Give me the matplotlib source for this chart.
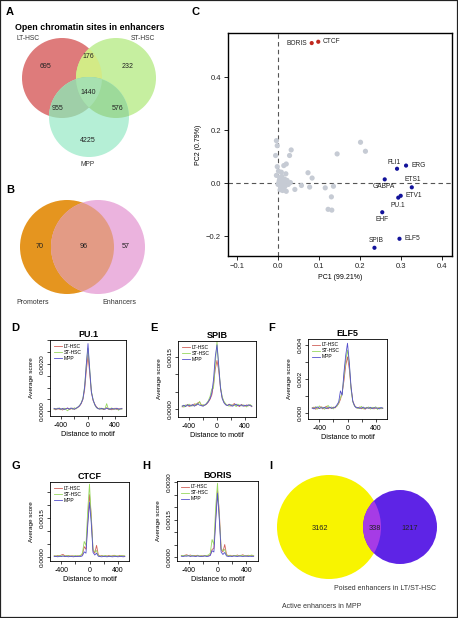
import numpy as np
import matplotlib
matplotlib.use('Agg')
import matplotlib.pyplot as plt
from matplotlib.patches import Circle, Rectangle, Polygon

plt.rcParams['font.family'] = ['Liberation Sans', 'DejaVu Sans']
NARROW = ['Liberation Sans Narrow', 'Liberation Sans', 'DejaVu Sans']

# ---------------- data ----------------
# A: open chromatin sites in enhancers
venn_a_sets = ['LT-HSC', 'ST-HSC', 'MPP']
venn_a_counts = [695, 232, 4225, 176, 955, 576, 1440]  # LT, ST, MPP, LT&ST, LT&MPP, ST&MPP, all three

# B
venn_b_sets = ['Promoters', 'Enhancers']
venn_b_counts = [70, 96, 57]

# I
venn_i_sets = ['Active enhancers in MPP', 'Poised enhancers in LT/ST-HSC']
venn_i_counts = [3162, 338, 1217]

# C: PCA of motifs
tf_names = ['BORIS', 'CTCF', 'FLI1', 'ERG', 'GABPA', 'ETS1', 'ETV1', 'PU.1', 'EHF', 'ELF5', 'SPIB']
tf_pc1 = [0.082, 0.098, 0.290, 0.312, 0.260, 0.326, 0.299, 0.293, 0.254, 0.296, 0.235]
tf_pc2 = [0.528, 0.533, 0.054, 0.066, 0.014, -0.016, -0.048, -0.055, -0.110, -0.210, -0.244]
other_pc1 = [-0.004, -0.002, 0.032, 0.028, -0.006, 0.144, 0.201, 0.213, 0.014, 0.020,
             -0.002, 0.008, 0.019, 0.073, 0.083, -0.004, 0.041, 0.057, 0.077, 0.115,
             0.135, 0.130, 0.122, 0.131, 0.020, 0.004, 0.008, 0.012, 0.016, 0.002,
             0.010, 0.006, 0.014, 0.018, 0.022, 0.000, 0.003, 0.009, 0.013, 0.017,
             0.005, 0.011, 0.025, 0.001, 0.030]
other_pc2 = [0.160, 0.141, 0.125, 0.104, 0.104, 0.110, 0.154, 0.120, 0.066, 0.072,
             0.062, 0.041, 0.035, 0.039, 0.019, 0.029, -0.024, -0.009, -0.015, -0.018,
             -0.012, -0.052, -0.099, -0.102, -0.031, 0.020, 0.012, 0.005, 0.015, 0.002,
             -0.008, -0.015, -0.020, 0.005, 0.010, -0.005, 0.010, 0.025, -0.002, -0.012,
             -0.025, -0.028, -0.005, 0.045, 0.002]

# D-H: footprint profiles (average score, x 1e-4), distance -500..500 step 25
dist = list(range(-500, 501, 25))
pu1_lt = [1.0,0.6,1.3,0.8,1.1,0.5,1.2,0.9,1.4,0.7,1.0,1.3,0.8,1.2,1.6,2.2,3.2,5.0,9.0,17.0,23.5,16.0,8.0,4.5,3.0,1.8,1.2,0.9,1.3,0.7,1.1,1.5,0.8,1.2,0.6,1.0,1.3,0.7,1.1,0.9,1.2]
pu1_st = [0.8,1.2,0.9,1.4,0.6,1.1,1.3,0.7,0.2,1.0,1.2,0.8,1.5,1.0,1.8,2.4,3.6,5.5,10.5,20.0,26.5,18.0,8.5,5.0,2.6,1.5,1.0,1.4,0.8,1.2,1.0,3.2,0.9,1.1,1.4,0.7,1.0,1.2,0.4,1.1,0.8]
pu1_mpp = [1.2,0.9,1.0,1.3,0.8,1.2,0.7,1.1,1.3,0.9,1.4,1.0,0.9,1.3,1.7,2.3,3.4,5.2,10.0,19.5,28.5,17.5,8.0,4.8,2.8,1.6,1.1,0.9,1.2,1.0,0.8,1.3,1.1,0.7,1.2,1.0,0.9,1.3,0.8,1.0,1.1]
spib_lt = [0.6,1.0,0.8,1.3,0.7,1.2,0.9,1.5,1.0,1.8,2.0,1.2,0.9,1.1,1.4,2.0,2.8,4.0,7.0,11.5,14.0,11.0,6.0,3.2,2.0,1.3,1.0,1.4,0.8,1.2,1.6,0.9,1.1,0.7,1.3,1.0,0.8,1.2,0.9,1.1,0.7]
spib_st = [1.0,0.5,1.2,0.9,1.4,0.8,1.1,1.0,1.6,1.2,2.2,0.9,1.3,1.0,1.7,2.4,3.6,5.8,6.0,13.0,19.5,12.0,6.5,3.5,2.2,1.5,1.1,0.8,1.3,1.0,1.2,0.7,1.4,1.1,0.9,1.2,1.0,0.6,1.1,1.3,0.9]
spib_mpp = [0.8,1.1,0.7,1.2,1.0,0.9,1.3,0.8,1.2,1.5,1.1,1.0,0.8,1.2,1.5,2.1,3.0,4.6,8.5,15.0,18.5,12.5,6.0,3.0,1.8,1.2,1.0,1.3,1.1,0.8,1.2,1.4,0.9,1.0,1.2,0.8,1.1,0.9,1.2,1.0,0.8]
elf5_lt = [2.8,3.5,2.2,3.0,2.6,3.8,2.4,3.1,4.0,2.5,3.3,2.7,3.5,3.0,4.2,5.5,8.0,12.0,19.0,28.0,33.0,26.0,15.0,7.0,4.5,3.2,2.8,3.6,2.5,3.0,2.2,3.4,2.9,2.6,3.3,2.4,3.0,2.7,3.2,2.5,2.9]
elf5_st = [3.2,2.6,3.8,2.3,4.2,2.9,3.5,2.2,3.3,4.5,2.8,3.6,2.4,3.7,4.0,6.0,9.0,11.5,22.0,31.0,37.0,29.0,14.0,6.5,4.0,3.5,2.6,3.1,3.9,2.4,3.2,2.8,3.6,2.3,3.4,2.9,3.7,2.1,3.3,2.6,3.0]
elf5_mpp = [3.0,2.4,3.2,3.6,2.7,3.1,2.9,3.4,2.6,3.0,3.5,2.8,3.1,3.4,4.8,6.5,13.0,10.5,24.0,34.0,41.0,30.0,15.5,7.0,4.2,3.0,3.3,2.7,3.0,3.5,2.6,3.1,2.8,3.4,2.5,3.2,2.9,3.0,2.4,3.3,2.8]
ctcf_lt = [0.5,0.3,0.6,0.4,0.8,1.0,0.5,0.4,0.6,0.3,0.5,0.4,0.2,0.5,0.4,0.6,1.0,4.0,3.0,14.0,24.0,16.0,2.5,1.5,4.5,0.8,0.4,0.6,0.3,0.5,0.4,0.6,0.3,0.5,0.7,0.4,0.3,0.6,0.4,0.5,0.3]
ctcf_st = [0.4,0.5,0.3,0.6,0.4,0.5,0.3,0.6,0.4,0.5,0.3,0.4,0.6,0.3,0.5,0.7,1.5,6.0,4.5,18.0,28.0,15.0,3.0,2.0,2.5,0.6,0.3,0.5,0.4,0.6,0.3,0.4,0.5,0.3,0.6,0.4,0.5,0.3,0.6,0.4,0.5]
ctcf_mpp = [0.2,0.3,0.1,0.3,0.2,0.4,0.2,0.3,0.1,0.3,0.2,0.1,0.3,0.2,0.3,0.2,0.5,2.0,1.5,12.0,21.0,13.0,1.8,0.8,1.5,0.3,0.2,0.1,0.3,0.2,0.1,0.3,0.2,0.1,0.2,0.3,0.1,0.2,0.3,0.1,0.2]
boris_lt = [0.6,0.4,0.7,0.9,0.5,0.8,0.4,0.6,0.5,0.7,0.3,0.5,0.4,0.6,0.4,0.5,0.8,3.0,3.5,16.0,27.0,18.0,3.0,2.0,5.0,1.0,0.5,0.7,0.4,0.6,0.5,0.8,0.4,0.6,0.9,0.5,0.4,0.7,0.5,0.6,0.4]
boris_st = [0.5,0.6,0.4,0.7,0.5,0.4,0.6,0.5,0.3,0.6,0.4,0.5,0.3,0.5,0.6,0.8,1.5,7.0,5.0,20.0,29.5,16.0,3.5,2.5,3.0,0.7,0.4,0.6,0.3,0.5,0.6,0.4,0.5,0.7,0.4,0.6,0.3,0.5,0.6,0.8,0.4]
boris_mpp = [0.3,0.2,0.4,0.3,0.5,0.2,0.4,0.3,0.2,0.4,0.3,0.2,0.3,0.4,0.2,0.3,0.6,2.5,2.0,14.0,25.5,15.0,2.0,1.0,1.8,0.4,0.2,0.3,0.2,0.4,0.3,0.2,0.4,0.3,0.2,0.3,0.4,0.2,0.3,0.2,0.3]

# ---------------- figure ----------------
W, H = 458, 618
fig = plt.figure(figsize=(W / 100, H / 100), dpi=100)

# overlay in pixel units for the Venn diagrams and panel letters
ov = fig.add_axes([0, 0, 1, 1])
ov.set_xlim(0, W)
ov.set_ylim(H, 0)
ov.axis('off')

def letter(x, y, s):
    ov.text(x, y, s, fontsize=8, fontweight='bold', ha='left', va='center')

for x, y, s in [(6, 12, 'A'), (6, 190, 'B'), (191, 12, 'C'), (11, 328, 'D'), (150, 328, 'E'),
                (268, 328, 'F'), (12, 466, 'G'), (142, 466, 'H'), (269, 466, 'I')]:
    letter(x, y, s)


def lens(c1, c2, r):
    # convex intersection of two equal circles as a polygon
    t = np.linspace(0, 2 * np.pi, 400)
    pts = []
    for (ax_, ay_), (bx_, by_) in [(c1, c2), (c2, c1)]:
        px = ax_ + r * np.cos(t)
        py = ay_ + r * np.sin(t)
        inside = (px - bx_) ** 2 + (py - by_) ** 2 <= r * r
        pts += list(zip(px[inside], py[inside]))
    pts = np.array(pts)
    m = pts.mean(axis=0)
    order = np.argsort(np.arctan2(pts[:, 1] - m[1], pts[:, 0] - m[0]))
    return pts[order]


# --- A ---
ov.text(90, 27, 'Open chromatin sites in enhancers', fontsize=6.4, fontweight='bold',
        ha='center', va='center')
ra = 40
a_centers = [(62, 78), (116, 78), (89, 117)]
a_colors = ['#DE7B7B', '#C6EFA0', '#B5EFD6']
pair_colors = {(0, 1): '#D3EA86', (0, 2): '#9FCFA8', (1, 2): '#9DDA9A'}
circ = [Circle(c, ra, facecolor=col, edgecolor='none') for c, col in zip(a_centers, a_colors)]
for c in circ:
    ov.add_patch(c)
for (i, j), col in pair_colors.items():
    p = Circle(a_centers[j], ra, facecolor=col, edgecolor='none')
    ov.add_patch(p)
    p.set_clip_path(circ[i])
tri = Polygon(lens(a_centers[0], a_centers[1], ra), closed=True, facecolor='none', edgecolor='none')
ov.add_patch(tri)
tri.set_visible(False)
centre = Circle(a_centers[2], ra, facecolor='#A7E1B0', edgecolor='none')
ov.add_patch(centre)
centre.set_clip_path(tri)

ov.text(28, 38, venn_a_sets[0], fontsize=4.8, ha='center', va='center', color='#333333')
ov.text(143, 38, venn_a_sets[1], fontsize=4.8, ha='center', va='center', color='#333333')
ov.text(88, 165, venn_a_sets[2], fontsize=4.8, ha='center', va='center', color='#333333')
a_pos = [(46, 67), (128, 67), (88, 140), (88, 57), (58, 109), (118, 109), (88, 92)]
for (x, y), n in zip(a_pos, venn_a_counts):
    ov.text(x, y, str(n), fontsize=5, ha='center', va='center', color='#222222')

# --- B ---
cb1 = Circle((67, 247), 47, facecolor='#E5951F', edgecolor='none')
cb2 = Circle((98, 247), 47, facecolor='#EBB3DE', edgecolor='none')
ov.add_patch(cb1)
ov.add_patch(cb2)
lens_b = Circle((98, 247), 47, facecolor='#E39B85', edgecolor='none')
ov.add_patch(lens_b)
lens_b.set_clip_path(cb1)
for x, n in zip([40, 84, 126], venn_b_counts):
    ov.text(x, 247, str(n), fontsize=5.2, ha='center', va='center', color='#222222')
ov.text(33, 302, venn_b_sets[0], fontsize=5, ha='center', va='center', color='#333333')
ov.text(119, 302, venn_b_sets[1], fontsize=5, ha='center', va='center', color='#333333')

# --- I ---
ci1 = Circle((329, 527), 52, facecolor='#F8F400', edgecolor='none')
ci2 = Circle((400, 527), 37, facecolor='#5E24E6', edgecolor='none')
ov.add_patch(ci1)
ov.add_patch(ci2)
lens_i = Circle((400, 527), 37, facecolor='#A63BE6', edgecolor='none')
ov.add_patch(lens_i)
lens_i.set_clip_path(ci1)
for x, n in zip([320, 375, 410], venn_i_counts):
    ov.text(x, 528, str(n), fontsize=5.3, ha='center', va='center', color='#222222')
ov.text(322, 607, venn_i_sets[0], fontsize=5, ha='center', va='center', color='#333333')
ov.text(385, 589, venn_i_sets[1], fontsize=5, ha='center', va='center', color='#333333')

# --- C: PCA ---
axc = fig.add_axes([228 / W, 1 - 256 / H, 224 / W, 223 / H])
axc.axvline(0, color='#555555', lw=0.8, ls=(0, (4, 3)), zorder=1)
axc.axhline(0, color='#555555', lw=0.8, ls=(0, (4, 3)), zorder=1)
axc.scatter(other_pc1, other_pc2, s=14, color='#C6CBD4', edgecolors='none', zorder=2)
tf_colors = ['#C0281E' if n in ('BORIS', 'CTCF') else '#12129A' for n in tf_names]
axc.scatter(tf_pc1, tf_pc2, s=9, color=tf_colors, edgecolors='none', zorder=3)
label_off = {'BORIS': (-3, 0, 'right', 'center'), 'CTCF': (3, 0.5, 'left', 'center'),
             'FLI1': (-2, 2, 'center', 'bottom'), 'ERG': (4, 0, 'left', 'center'),
             'GABPA': (-1, -2.5, 'center', 'top'), 'ETS1': (1, 3, 'center', 'bottom'),
             'ETV1': (3.5, 0, 'left', 'center'), 'PU.1': (0, -3, 'center', 'top'),
             'EHF': (0, -3, 'center', 'top'), 'ELF5': (3.5, 0, 'left', 'center'),
             'SPIB': (1, 3, 'center', 'bottom')}
for n, x, y in zip(tf_names, tf_pc1, tf_pc2):
    dx, dy, ha, va = label_off[n]
    axc.annotate(n, (x, y), xytext=(dx, dy), textcoords='offset points', fontsize=4.8,
                 ha=ha, va=va, color='#222222')
axc.set_xlim(-0.122, 0.424)
axc.set_ylim(-0.275, 0.566)
axc.set_xticks([-0.1, 0.0, 0.1, 0.2, 0.3, 0.4])
axc.set_yticks([-0.2, 0.0, 0.2, 0.4])
axc.tick_params(direction='out', length=3, width=0.7, labelsize=5.5, pad=2, colors='#222222')
for sp in axc.spines.values():
    sp.set_linewidth(1.0)
axc.set_xlabel('PC1 (99.21%)', fontsize=5, family=NARROW, labelpad=3)
axc.set_ylabel('PC2 (0.79%)', fontsize=5, family=NARROW, labelpad=3)

# --- D-H: profiles ---
prof_colors = ['#D0605A', '#98D860', '#5550CC']
prof_names = ['LT-HSC', 'ST-HSC', 'MPP']


def profile(box, title, series, ylim, ystep, ylabeled, fmt, xlab=True):
    l, t, r, b = box
    ax = fig.add_axes([l / W, 1 - b / H, (r - l) / W, (b - t) / H])
    for vals, c, n in zip(series, prof_colors, prof_names):
        ax.plot(dist, np.array(vals) * 1e-4, color=c, lw=0.6, label=n)
    ax.set_xlim(-560, 560)
    ax.set_ylim(*ylim)
    ax.set_xticks([-400, -200, 0, 200, 400])
    ax.set_xticklabels(['-400', '', '0', '', '400'])
    yt = np.arange(0, ylim[1] + 1e-9, ystep)
    ax.set_yticks(yt)
    ax.set_yticklabels([fmt % v if any(abs(v - q) < 1e-9 for q in ylabeled) else '' for v in yt],
                       rotation=90, va='center', family=NARROW, fontsize=4.6)
    ax.tick_params(direction='out', length=2.5, width=0.5, pad=1.5)
    ax.tick_params(axis='x', labelsize=5)
    for sp in ax.spines.values():
        sp.set_linewidth(0.6)
    ax.set_title(title, fontsize=6.5, fontweight='bold', pad=2.5)
    ax.set_ylabel('Average score', fontsize=4.6, family=NARROW, labelpad=4)
    if xlab:
        ax.set_xlabel('Distance to motif', fontsize=5.2, family=NARROW, labelpad=1.5)
    ax.legend(loc='upper left', frameon=False, fontsize=3.6, handlelength=1.6,
              handletextpad=0.5, labelspacing=0.2, borderaxespad=0.3)
    return ax


profile((50, 340, 126, 416), 'PU.1', [pu1_lt, pu1_st, pu1_mpp], (-0.0002, 0.0030), 0.0005,
        [0.0, 0.002], '%.4f')
profile((178, 341, 256, 417), 'SPIB', [spib_lt, spib_st, spib_mpp], (-0.00023, 0.00196), 0.0005,
        [0.0, 0.0015], '%.4f')
profile((308, 339, 387, 419), 'ELF5', [elf5_lt, elf5_st, elf5_mpp], (-0.00035, 0.00435), 0.001,
        [0.0, 0.002, 0.004], '%.3f')
profile((50, 482, 129, 561), 'CTCF', [ctcf_lt, ctcf_st, ctcf_mpp], (-0.00015, 0.00288), 0.0005,
        [0.0, 0.0015], '%.4f')
profile((177, 481, 258, 561), 'BORIS', [boris_lt, boris_st, boris_mpp], (-0.00016, 0.00304), 0.0005,
        [0.0, 0.0015, 0.003], '%.4f')

# thin frame round the whole figure
fig.add_artist(Rectangle((0, 0), 1, 1, transform=fig.transFigure, fill=False,
                         edgecolor='#222222', lw=1.6))

fig.savefig('out.png', dpi=100)
